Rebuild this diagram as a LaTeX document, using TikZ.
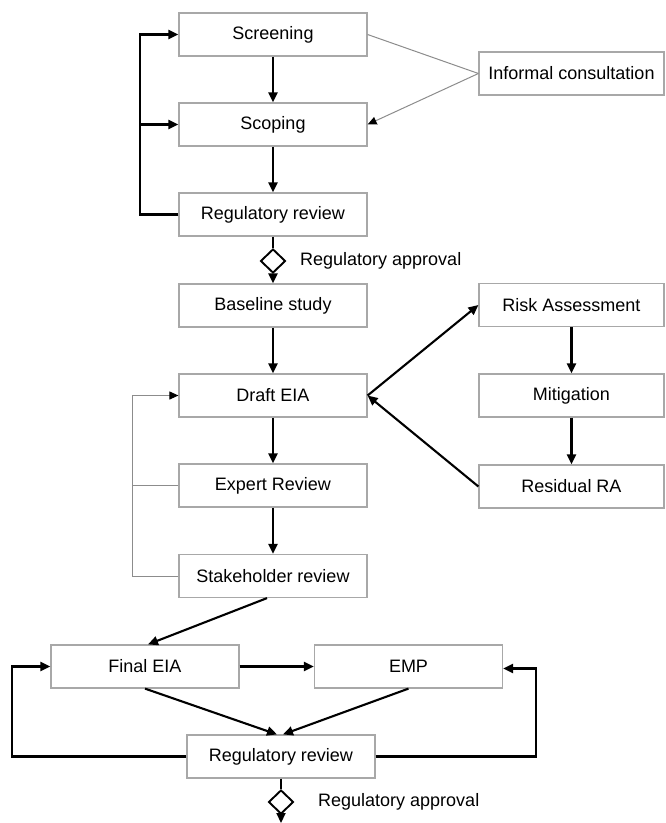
\documentclass[tikz,border=0pt]{standalone}
\usepackage{fontspec}
\setmainfont{Liberation Sans}
\usetikzlibrary{arrows.meta,shapes.geometric}
\definecolor{boxgray}{HTML}{A8A8A8}
\definecolor{linegray}{HTML}{8C8C8C}
\begin{document}
\begin{tikzpicture}[x=1pt,y=-1pt,
  box/.style={draw=boxgray, line width=1.2pt, minimum width=188pt, minimum height=43pt, inner sep=0pt, font=\fontsize{18}{20}\selectfont},
  rbox/.style={box, minimum width=185pt},
  lbl/.style={anchor=west, inner sep=0pt, font=\fontsize{18}{20}\selectfont},
  dia/.style={draw=black, line width=1.9pt, diamond, aspect=1, minimum width=25pt, minimum height=24pt, inner sep=0pt},
  blk/.style={draw=black, line width=2.1pt, -{Triangle[length=10pt,width=9pt]}},
  thinblk/.style={draw=black, line width=1.5pt},
  gry/.style={draw=linegray, line width=1pt},
  gryarr/.style={gry, -{Triangle[length=9pt,width=8pt,color=black]}}
]
\useasboundingbox (0,0) rectangle (665,823);

% nodes
\node[box] (scr) at (273,34.5) {Screening};
\node[box] (scp) at (273,124.5) {Scoping};
\node[box] (rr1) at (273,214.5) {Regulatory review};
\node[rbox] (inf) at (571.5,73.5) {Informal consultation};
\node[dia] (d1) at (273,261) {};
\node[lbl] (a1) at (300,261) {Regulatory approval};
\node[box] (base) at (273,305.5) {Baseline study};
\node[box] (draft) at (273,395.5) {Draft EIA};
\node[box] (exp) at (273,485.5) {Expert Review};
\node[box] (stk) at (273,576) {Stakeholder review};
\node[rbox] (risk) at (571.5,305) {Risk Assessment};
\node[rbox] (mit) at (571.5,395.5) {Mitigation};
\node[rbox] (res) at (571.5,486.5) {Residual RA};
\node[box] (fin) at (145,666.5) {Final EIA};
\node[box] (emp) at (408.5,666.5) {EMP};
\node[box] (rr2) at (281,756.5) {Regulatory review};
\node[dia] (d2) at (281,802) {};
\node[lbl] (a2) at (318,802) {Regulatory approval};
\coordinate (endpt) at (281,823);

% top section
\draw[blk] (scr) -- (scp);
\draw[blk] (scp) -- (rr1);
\draw[blk] (rr1.west) -- ++(-38,0) coordinate (lt) |- (scr.west);
\draw[blk] (lt |- scp.west) -- (scp.west);
\draw[gry] (scr.east) -- (inf.west);
\draw[gryarr] (inf.west) -- (scp.east);
\draw[thinblk] (rr1.south) -- (d1.north);
\draw[blk] (d1.south) -- (base.north);

% middle section
\draw[blk] (base) -- (draft);
\draw[blk] (draft) -- (exp);
\draw[blk] (exp) -- (stk);
\draw[gryarr] (stk.west) -- ++(-46,0) coordinate (lg) |- (draft.west);
\draw[gry] (exp.west) -- (lg |- exp.west);
\draw[blk] (draft.east) -- (risk.west);
\draw[blk] (res.west) -- (draft.east);
\draw[blk] (risk) -- (mit);
\draw[blk] (mit) -- (res);

% bottom section
\draw[blk] ([xshift=-6pt]stk.south) -- ([xshift=3pt]fin.north);
\draw[blk] (fin) -- (emp);
\draw[blk] (fin.south) -- ([xshift=-4pt]rr2.north);
\draw[blk] (emp.south) -- ([xshift=2pt]rr2.north);
\draw[blk] (rr2.west) -- ++(-174,0) |- (fin.west);
\draw[blk] (rr2.east) -- ++(160,0) |- ([yshift=-2pt]emp.east);
\draw[thinblk] (rr2.south) -- (d2.north);
\draw[blk] (d2.south) -- (endpt);
\end{tikzpicture}
\end{document}
